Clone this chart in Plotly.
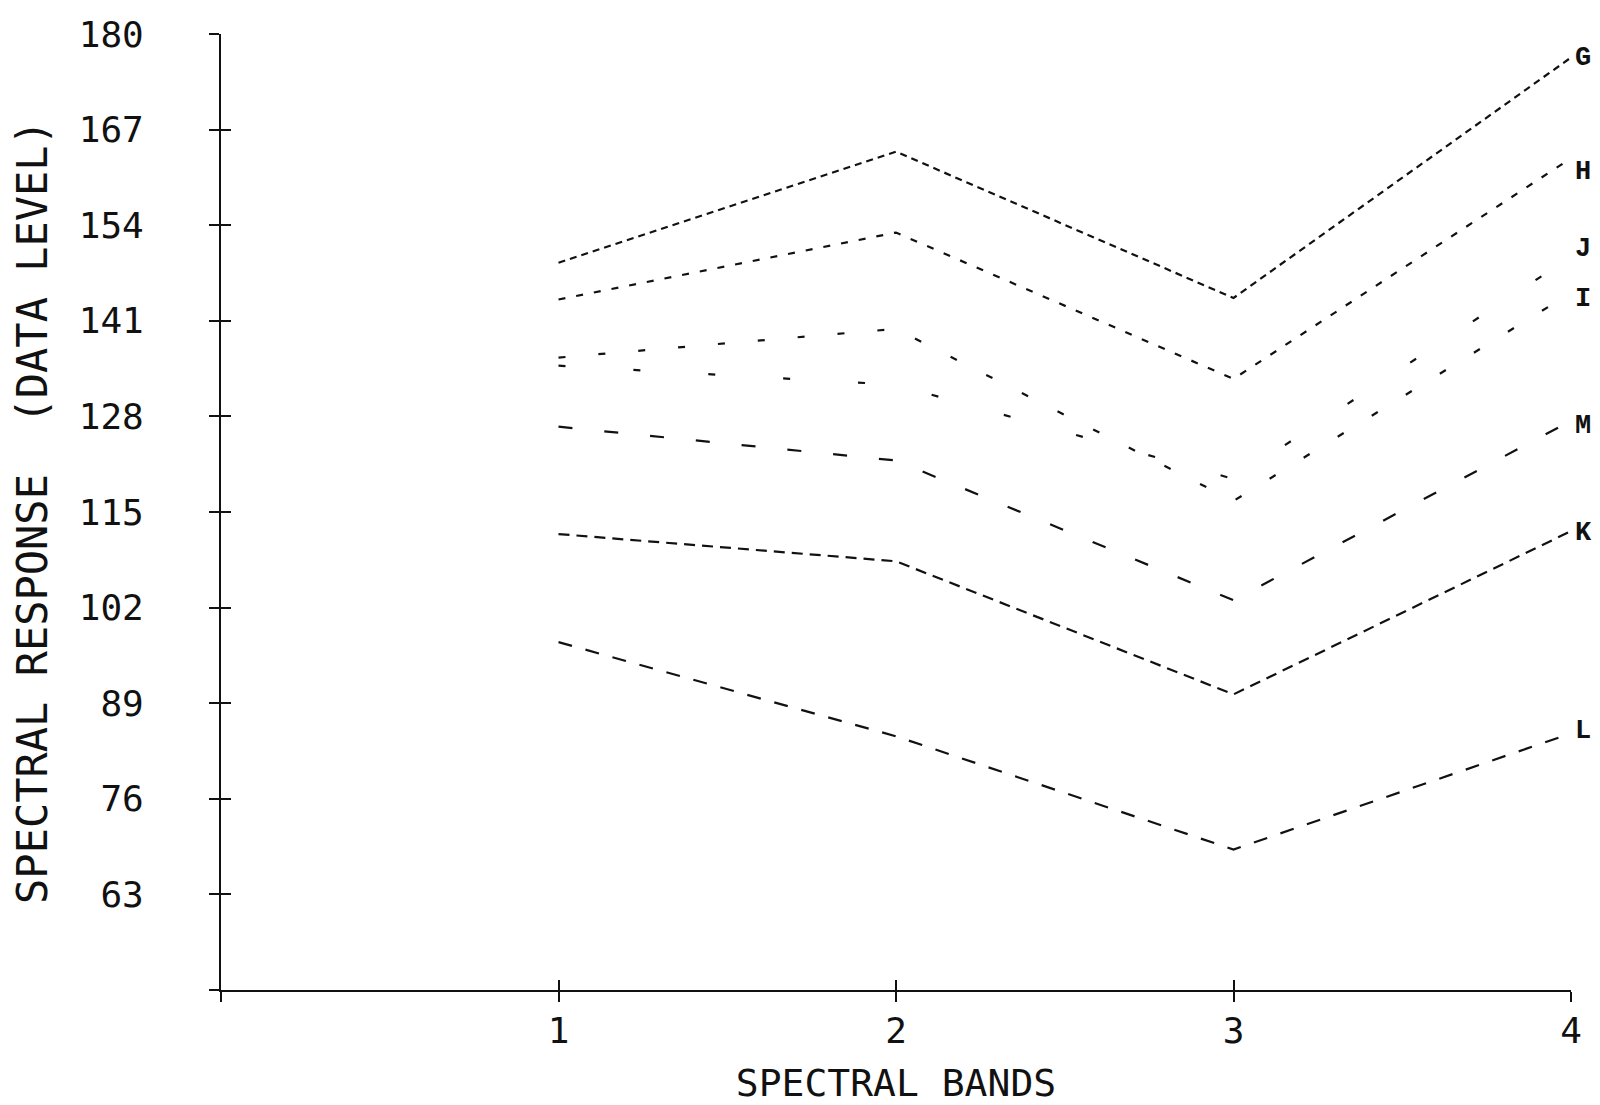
import plotly.graph_objects as go

# ---- data ----
bands = [1, 2, 3, 4]
series_names = ["G", "H", "I", "J", "M", "K", "L"]
G = [148.9, 164.0, 144.1, 176.8]
H = [143.9, 153.0, 133.1, 163.1]
I = [136.0, 139.9, 116.5, 144.8]
J = [134.9, 132.3, 119.5, 149.7]
M = [126.6, 122.0, 103.0, 127.4]
K = [112.0, 108.3, 90.2, 112.4]
L = [97.3, 84.5, 69.1, 84.9]
y_tick_values = [50, 63, 76, 89, 102, 115, 128, 141, 154, 167, 180]
y_tick_labels = ["", "63", "76", "89", "102", "115", "128", "141", "154", "167", "180"]
x_tick_values = [0, 1, 2, 3, 4]
x_tick_labels = ["", "1", "2", "3", "4"]

series = {"G": G, "H": H, "I": I, "J": J, "M": M, "K": K, "L": L}

# ---- styles ----
dashes = {
    "G": "7px,5px",
    "H": "7px,11px",
    "I": "7px,33px",
    "J": "7px,68px",
    "M": "14px,32px",
    "K": "11px,7px",
    "L": "14px,14px",
}
label_yshift = {"G": 0, "H": -14, "I": -6, "J": 8, "M": -5, "K": -2, "L": 2}
ink = "#111111"
mono = "DejaVu Sans Mono"

fig = go.Figure()
for name in series_names:
    fig.add_trace(go.Scatter(
        x=bands, y=series[name], mode="lines", name=name,
        line=dict(color=ink, width=2.2, dash=dashes[name]),
        showlegend=False, hoverinfo="skip",
    ))

# invisible trace to realise the overlay axes (inside half of crossing ticks)
fig.add_trace(go.Scatter(x=[bands[0]], y=[G[0]], xaxis="x2", yaxis="y2",
                         mode="markers", marker=dict(opacity=0),
                         showlegend=False, hoverinfo="skip"))

for name in series_names:
    fig.add_annotation(
        x=bands[-1], y=series[name][-1], xref="x", yref="y",
        text=name, showarrow=False, xanchor="left", xshift=2,
        yshift=label_yshift[name],
        font=dict(family="Liberation Mono", size=27, color=ink, weight="bold"),
    )

axis_common = dict(showgrid=False, zeroline=False, linecolor=ink, linewidth=2,
                   tickcolor=ink, tickwidth=2, ticklen=10, automargin=False)

# the page body adds an 8px offset, so the figure is sized/margined to compensate
fig.update_layout(
    width=1592, height=1097,
    margin=dict(l=213, r=29, t=26, b=115, autoexpand=False),
    paper_bgcolor="white", plot_bgcolor="white",
    xaxis=dict(range=[0, 4], tickmode="array", tickvals=x_tick_values,
               ticktext=x_tick_labels, ticks="outside", showline=True,
               tickfont=dict(family=mono, size=36, color=ink),
               ticklabelstandoff=-2,
               title=dict(text="SPECTRAL BANDS",
                          font=dict(family=mono, size=38, color=ink),
                          standoff=24),
               **axis_common),
    yaxis=dict(range=[50, 180], tickmode="array", tickvals=y_tick_values,
               ticktext=y_tick_labels, ticks="outside", showline=True,
               tickfont=dict(family=mono, size=36, color=ink),
               ticklabelstandoff=58,
               title=dict(text="SPECTRAL RESPONSE  (DATA LEVEL)",
                          font=dict(family=mono, size=42, color=ink),
                          standoff=18),
               **axis_common),
    xaxis2=dict(range=[0, 4], overlaying="x", anchor="y2", side="bottom",
                tickmode="array", tickvals=x_tick_values, ticks="inside",
                showticklabels=False, showline=False, showgrid=False,
                zeroline=False, tickcolor=ink, tickwidth=2, ticklen=10,
                automargin=False),
    yaxis2=dict(range=[50, 180], overlaying="y", anchor="x2", side="left",
                tickmode="array", tickvals=y_tick_values, ticks="inside",
                showticklabels=False, showline=False, showgrid=False,
                zeroline=False, tickcolor=ink, tickwidth=2, ticklen=10,
                automargin=False),
)

fig.write_html("out.html")
